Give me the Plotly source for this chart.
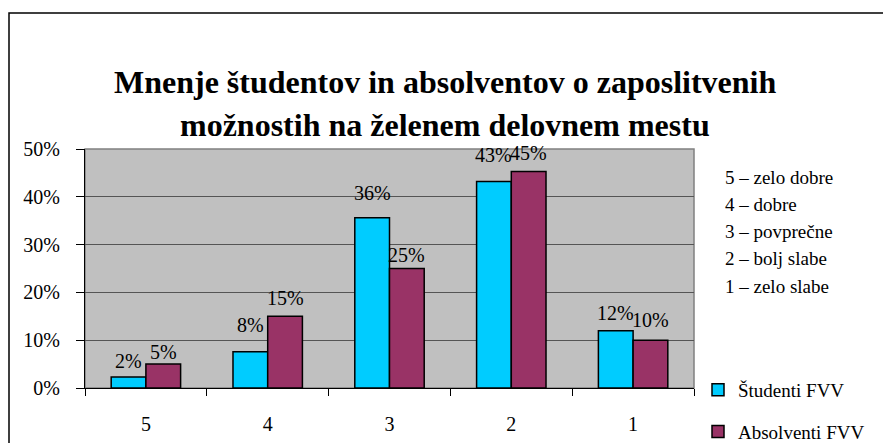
import plotly.graph_objects as go

categories = ["5", "4", "3", "2", "1"]
studenti = [0.023, 0.076, 0.356, 0.432, 0.12]
absolventi = [0.05, 0.15, 0.25, 0.453, 0.10]
series_names = ["Študenti FVV", "Absolventi FVV"]
title_lines = ["Mnenje študentov in absolventov o zaposlitvenih",
               "možnostih na želenem delovnem mestu"]
scale_labels = ["5 – zelo dobre", "4 – dobre", "3 – povprečne",
                "2 – bolj slabe", "1 – zelo slabe"]

# style: extra lift (px) of each data label above its bar, as in the reference
lift_studenti = [3, 14, 12, 14, 5]
lift_absolventi = [-1, 5, 1, 5, 7]

OFF = 8  # default page body margin
W, H = 891 - OFF, 443 - OFF
L, R, T, B = 85 - OFF, 694 - OFF, 149 - OFF, 388 - OFF

def px(x):
    return (x - OFF - L) / (R - L)

def py(y):
    return (B - (y - OFF)) / (B - T)

FONT = "'Liberation Serif'"
BARGAP = 0.43
half_bar = (R - L) / len(categories) * (1 - BARGAP) / 4

fig = go.Figure()
annotations = []
for k, (name, vals, col, grp, lift) in enumerate([
        (series_names[0], studenti, "#00CCFF", "a", lift_studenti),
        (series_names[1], absolventi, "#993366", "b", lift_absolventi)]):
    fig.add_trace(go.Bar(
        x=categories, y=vals, name=name, legendgroup=grp,
        marker=dict(color=col, line=dict(color="black", width=1.5)),
    ))
    for i, (v, s) in enumerate(zip(vals, lift)):
        annotations.append(dict(
            x=i, y=v, xref="x", yref="y", text=f"{v:.0%}", showarrow=False,
            xanchor="center", yanchor="bottom",
            xshift=(-half_bar if k == 0 else half_bar), yshift=s,
            font=dict(family=FONT, size=20, color="black")))

for i, t in enumerate(title_lines):
    annotations.append(dict(text=t, x=px(445), y=py(82 + 43 * i), xref="paper", yref="paper",
                            showarrow=False, xanchor="center", yanchor="middle",
                            font=dict(family=FONT, size=32, color="black", weight="bold")))
for i, t in enumerate(scale_labels):
    annotations.append(dict(text=t, x=px(723), y=py(177 + 27.3 * i), xref="paper", yref="paper",
                            showarrow=False, xanchor="left", yanchor="middle",
                            font=dict(family=FONT, size=19, color="black")))

fig.update_layout(
    width=W, height=H,
    margin=dict(l=L, r=W - R, t=T, b=H - B, pad=0, autoexpand=False),
    paper_bgcolor="white", plot_bgcolor="#C0C0C0",
    barmode="group", bargap=BARGAP, bargroupgap=0,
    showlegend=True,
    legend=dict(x=px(698), y=py(371), xanchor="left", yanchor="top",
                font=dict(family=FONT, size=19, color="black"),
                traceorder="grouped", tracegroupgap=14,
                itemwidth=30, bgcolor="rgba(0,0,0,0)"),
    annotations=annotations,
    shapes=[
        dict(type="rect", xref="paper", yref="paper",
             x0=px(9), x1=px(900), y0=py(13), y1=py(460),
             line=dict(color="black", width=1.5), layer="below"),
        dict(type="rect", xref="paper", yref="paper", x0=0, x1=1, y0=0, y1=1,
             line=dict(color="#808080", width=1.5), layer="below"),
    ],
    font=dict(family=FONT, color="black"),
)
fig.update_yaxes(range=[0, 0.5], dtick=0.1, tickformat=".0%",
                 showgrid=True, gridcolor="#555555", gridwidth=1,
                 ticks="outside", ticklen=8, tickcolor="black",
                 showline=True, linecolor="black", linewidth=1,
                 ticklabelstandoff=12, zeroline=False,
                 tickfont=dict(family=FONT, size=20, color="black"))
fig.update_xaxes(type="category", range=[-0.5, len(categories) - 0.5],
                 ticks="outside", tickson="boundaries",
                 ticklen=7, tickcolor="black", showline=True, linecolor="black",
                 linewidth=1, showgrid=False, ticklabelstandoff=18,
                 tickfont=dict(family=FONT, size=20, color="black"))

fig.write_html("out.html")
